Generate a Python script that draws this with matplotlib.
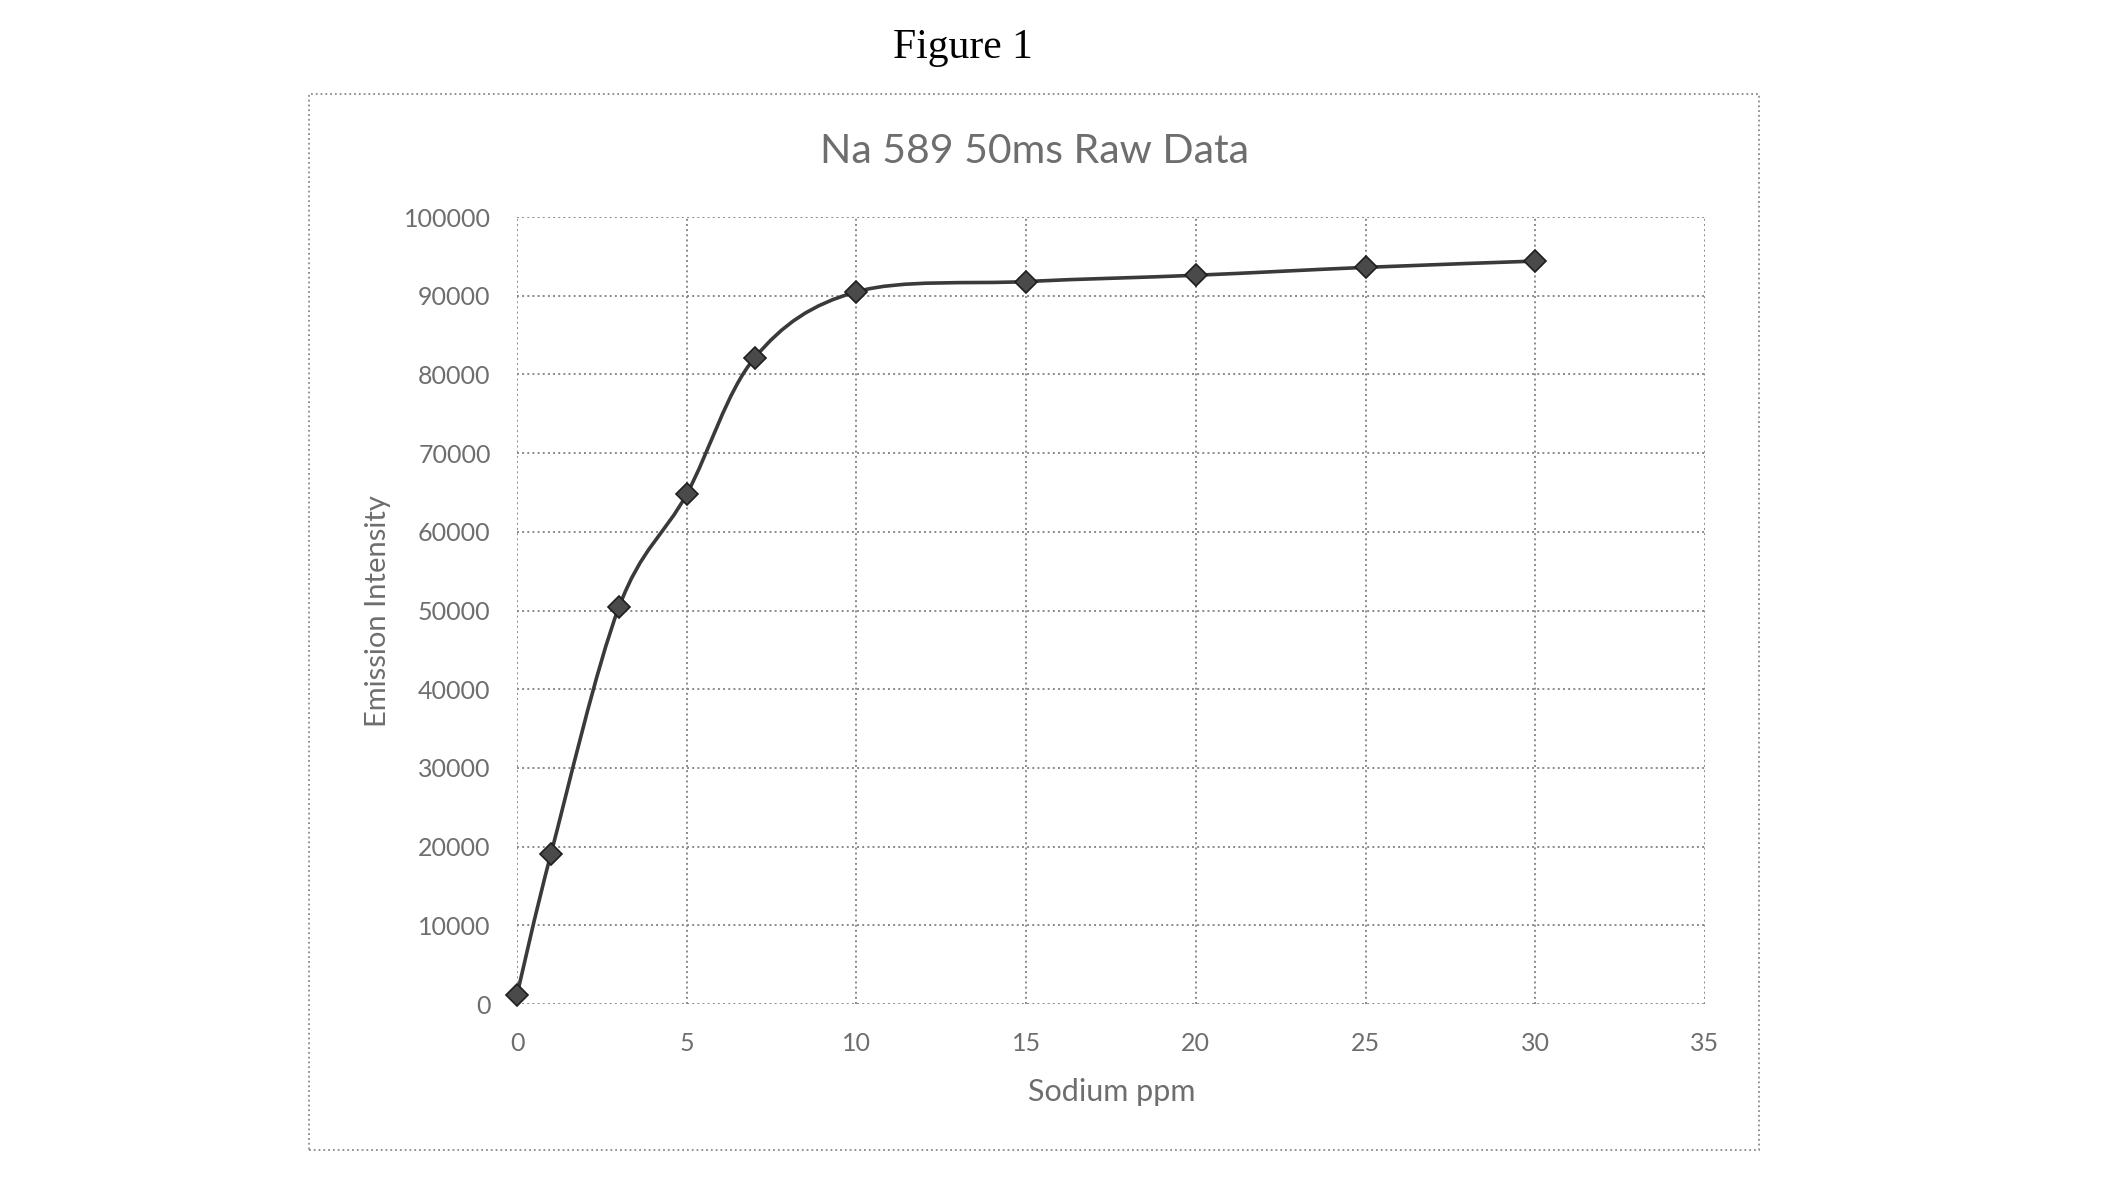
import numpy as np
import matplotlib.pyplot as plt
from matplotlib.path import Path
from matplotlib.patches import PathPatch, Rectangle

# Sodium standards (ppm) and raw emission intensity
sodium_ppm = [0, 1, 3, 5, 7, 10, 15, 20, 25, 30]
intensity = [1200, 19100, 50400, 64800, 82100, 90500, 91800, 92600, 93600, 94400]

x_ticks = [0, 5, 10, 15, 20, 25, 30, 35]
y_ticks = [0, 10000, 20000, 30000, 40000, 50000, 60000, 70000, 80000, 90000, 100000]

TEXT_GREY = "#6e6e6e"
GRID_GREY = "#8a8a8a"
LINE_DARK = "#3a3a3a"


def smooth_path(xs, ys, tension=1.0 / 6):
    # Excel-style smoothed line: Catmull-Rom segments as cubic Bezier curves
    xs = np.asarray(xs, float)
    ys = np.asarray(ys, float)
    verts = [(xs[0], ys[0])]
    codes = [Path.MOVETO]
    n = len(xs)
    for i in range(n - 1):
        p0 = (xs[max(i - 1, 0)], ys[max(i - 1, 0)])
        p1 = (xs[i], ys[i])
        p2 = (xs[i + 1], ys[i + 1])
        p3 = (xs[min(i + 2, n - 1)], ys[min(i + 2, n - 1)])
        c1 = (p1[0] + (p2[0] - p0[0]) * tension, p1[1] + (p2[1] - p0[1]) * tension)
        c2 = (p2[0] - (p3[0] - p1[0]) * tension, p2[1] - (p3[1] - p1[1]) * tension)
        verts += [c1, c2, p2]
        codes += [Path.CURVE4] * 3
    return Path(verts, codes)


def main():
    plt.rcParams["font.family"] = ["Lato", "DejaVu Sans"]

    fig = plt.figure(figsize=(21.13, 11.93), dpi=100)

    # dotted chart-area frame
    fig.patches.append(Rectangle((0.1462, 0.036), 0.6863, 0.8852,
                                 transform=fig.transFigure, fill=False,
                                 edgecolor=GRID_GREY, linestyle=":", linewidth=1.3))

    ax = fig.add_axes([0.2447, 0.1584, 0.5622, 0.6597])

    ax.set_xlim(0, 35)
    ax.set_ylim(0, 100000)
    ax.set_xticks(x_ticks)
    ax.set_yticks(y_ticks)
    ax.set_xticklabels([str(t) for t in x_ticks])
    ax.set_yticklabels([str(t) for t in y_ticks])
    ax.tick_params(length=0, labelsize=18, labelcolor=TEXT_GREY)
    ax.tick_params(axis="x", pad=20)
    ax.tick_params(axis="y", pad=19)

    ax.grid(True, color=GRID_GREY, linestyle=":", linewidth=1.4)
    for sp in ax.spines.values():
        sp.set_visible(False)

    ax.add_patch(PathPatch(smooth_path(sodium_ppm, intensity), fill=False,
                           edgecolor=LINE_DARK, linewidth=2.6, zorder=3))
    ax.plot(sodium_ppm, intensity, linestyle="none", marker="D", markersize=11,
            markerfacecolor="#4a4a4a", markeredgecolor="#1e1e1e",
            markeredgewidth=1.2, zorder=4, clip_on=False)

    fig.text(0.4557, 0.960, "Figure 1", ha="center", va="center",
             fontsize=30, family="Liberation Serif", color="black")
    fig.text(0.4894, 0.873, "Na 589 50ms Raw Data", ha="center", va="center",
             fontsize=29.5, color=TEXT_GREY)
    fig.text(0.5263, 0.085, "Sodium ppm", ha="center", va="center",
             fontsize=22, color=TEXT_GREY)
    fig.text(0.179, 0.488, "Emission Intensity", ha="center", va="center",
             rotation=90, fontsize=21, color=TEXT_GREY)

    fig.savefig("out.png", dpi=100)
    plt.close(fig)


if __name__ == "__main__":
    main()
